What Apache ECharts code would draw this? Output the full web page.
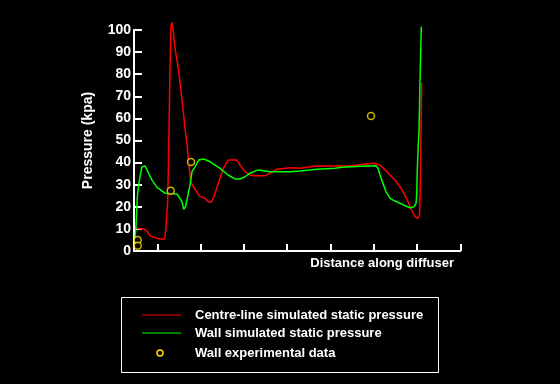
<!DOCTYPE html>
<html><head><meta charset="utf-8">
<script src="https://cdn.jsdelivr.net/npm/echarts@6/dist/echarts.min.js"></script>
<style>html,body{margin:0;padding:0;background:#000}#c{width:560px;height:384px}</style>
</head><body><div id="c"></div><script>
// x: distance along diffuser (arbitrary units), y: pressure (kpa)
const xTickValues = [23.3, 66.6, 109.9, 153.2, 196.5, 239.8, 283.1, 326.4];
const yTickLabels = [0, 10, 20, 30, 40, 50, 60, 70, 80, 90, 100];
const seriesNames = ['Centre-line simulated static pressure', 'Wall simulated static pressure', 'Wall experimental data'];
const centreLine = [
  [1, 10.3], [9.7, 10.0], [13, 9.0], [16.3, 6.8], [23, 5.7], [29.7, 5.3], [31, 6.5], [32, 11],
  [33.7, 23.1], [34.5, 40.3], [35, 54.8], [36, 82.8], [37, 101.4], [38, 103.5], [39.3, 99.2],
  [41, 91.7], [44.3, 82.7], [46.7, 73.6], [49.3, 63.0], [51, 55.5], [52.7, 49.5], [54.3, 41.9],
  [56.7, 31.4], [59.3, 29.1], [62.7, 26.8], [66, 24.6], [71, 23.8], [74.3, 22.3], [77, 22.0],
  [79.3, 23.8], [82.7, 28.4], [86, 32.9], [89.3, 37.4], [94.3, 41.2], [102.7, 41.2], [106, 38.9],
  [111, 35.9], [116, 34.4], [119.3, 34.1], [131, 34.1], [136, 35.2], [143, 37.0], [156, 37.7],
  [166, 37.4], [173, 37.9], [183, 38.5], [216, 38.5], [229, 39.2], [231, 39.7], [240, 39.7],
  [242, 39.4], [247, 38.6], [251, 36.7], [256, 34.4], [261, 32.1], [266, 29.1], [270, 26.1],
  [274, 22.3], [278, 18.1], [281, 15.5], [284, 14.8], [285.5, 16.3], [286, 23.8], [286.7, 42],
  [287.7, 76]
];
const wallLine = [
  [1, 6], [2, 11], [2.7, 18.5], [3.5, 25.3], [4.7, 29.9], [6.3, 34.4], [8, 38.0], [9.7, 38.9],
  [11, 38.5], [14, 35.7], [18, 32.1], [23, 28.8], [31.3, 26.1], [43, 25.8], [44.7, 24.9],
  [48, 22.3], [49.7, 18.9], [51.5, 19.9], [53, 23.1], [56.3, 30.6], [58, 35.9], [61, 38.1],
  [64.7, 41.2], [69.7, 41.6], [76, 40.4], [86, 37.4], [94, 34.4], [101, 32.6], [106, 32.6],
  [111, 33.6], [116, 35.2], [124, 36.7], [136, 35.9], [156, 35.9], [166, 36.2], [183, 37.0],
  [201, 37.4], [208, 37.9], [233, 38.5], [242, 38.6], [244, 37.4], [246, 34.4], [249, 30.6],
  [252, 26.8], [256, 23.8], [261, 22.6], [266, 21.6], [271, 20.5], [276, 19.6], [278, 19.5],
  [280, 20.0], [282, 21.6], [282.7, 25.3], [283.3, 36.7], [284.3, 48], [285, 54], [286, 76.6],
  [287.3, 101.5]
];
const wallExperimental = [[3.7, 5.0], [3.7, 2.4], [36.7, 27.3], [57, 40.3], [237, 61.1]];

const FONT = '"Liberation Sans", Arial, sans-serif';
const chart = echarts.init(document.getElementById('c'), null, {renderer: 'canvas'});
chart.setOption({
  backgroundColor: '#000',
  animation: false,
  grid: {left: 134, top: 30, width: 326.4, height: 221, containLabel: false},
  xAxis: {
    type: 'value', min: 0, max: 326.4,
    axisLine: {lineStyle: {color: '#fff', width: 2}},
    axisTick: {inside: true, length: 7, lineStyle: {color: '#fff', width: 2}, customValues: xTickValues},
    axisLabel: {show: false},
    splitLine: {show: false}
  },
  yAxis: {
    type: 'value', min: 0, max: 100, interval: 10,
    name: 'Pressure (kpa)', nameLocation: 'middle', nameGap: 39,
    nameTextStyle: {color: '#fff', fontSize: 14, fontWeight: 'bold', fontFamily: FONT},
    axisLine: {lineStyle: {color: '#fff', width: 2}},
    axisTick: {inside: true, length: 8, lineStyle: {color: '#fff', width: 2}},
    axisLabel: {color: '#fff', fontSize: 14, fontWeight: 'bold', fontFamily: FONT, margin: 3,
      formatter: v => yTickLabels.includes(v) ? String(v) : ''},
    splitLine: {show: false}
  },
  series: [
    {name: seriesNames[0], type: 'line', data: centreLine, symbol: 'none', clip: false,
     lineStyle: {color: '#ff0000', width: 1.5}},
    {name: seriesNames[1], type: 'line', data: wallLine, symbol: 'none', clip: false,
     lineStyle: {color: '#00ff00', width: 1.5}},
    {name: seriesNames[2], type: 'scatter', data: wallExperimental, symbol: 'circle', symbolSize: 7, clip: false,
     itemStyle: {color: '#000', borderColor: '#ffdd00', borderWidth: 1.5}, z: 5}
  ],
  graphic: [
    {type: 'text', right: 106, top: 257, style: {text: 'Distance along diffuser', fill: '#fff',
      font: 'bold 13px ' + FONT}},
    {type: 'rect', shape: {x: 121.5, y: 297.5, width: 317, height: 75}, style: {fill: 'none', stroke: '#fff', lineWidth: 1}},
    {type: 'line', shape: {x1: 142, y1: 315, x2: 181, y2: 315}, style: {stroke: '#ff0000', lineWidth: 1}},
    {type: 'line', shape: {x1: 142, y1: 333, x2: 181, y2: 333}, style: {stroke: '#00ff00', lineWidth: 1}},
    {type: 'circle', shape: {cx: 160, cy: 353, r: 3}, style: {fill: '#000', stroke: '#ffdd00', lineWidth: 1.5}},
    {type: 'text', x: 195, y: 315, style: {text: seriesNames[0], fill: '#fff', font: 'bold 13px ' + FONT, verticalAlign: 'middle'}},
    {type: 'text', x: 195, y: 333, style: {text: seriesNames[1], fill: '#fff', font: 'bold 13px ' + FONT, verticalAlign: 'middle'}},
    {type: 'text', x: 195, y: 353, style: {text: seriesNames[2], fill: '#fff', font: 'bold 13px ' + FONT, verticalAlign: 'middle'}}
  ]
});
</script></body></html>
